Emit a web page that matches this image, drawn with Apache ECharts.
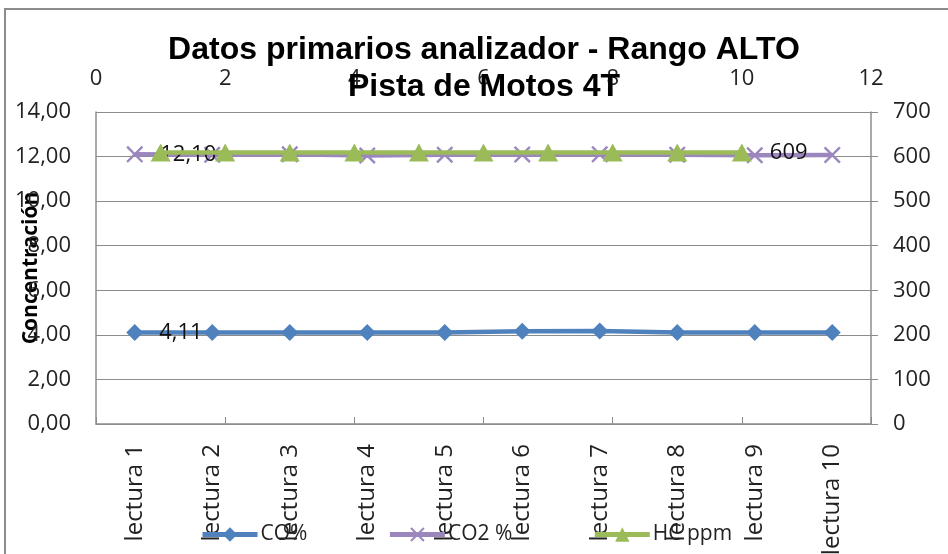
<!DOCTYPE html>
<html>
<head>
<meta charset="utf-8">
<script src="https://cdn.jsdelivr.net/npm/echarts@6/dist/echarts.min.js"></script>
<style>
  html, body { margin: 0; padding: 0; background: #fff; }
  #frame { position: absolute; left: 4px; top: 8px; width: 948px; height: 560px; border: 2px solid #8c8c8c; box-sizing: border-box; }
  #chart { position: absolute; left: 0; top: 0; width: 948px; height: 554px; }
</style>
</head>
<body>
<div id="frame"></div>
<div id="chart"></div>
<script>
// Readings taken by the analyser on the motorcycle track (high range)
const lecturas = ['lectura 1', 'lectura 2', 'lectura 3', 'lectura 4', 'lectura 5',
                  'lectura 6', 'lectura 7', 'lectura 8', 'lectura 9', 'lectura 10'];
const coPct  = [4.11, 4.11, 4.11, 4.11, 4.11, 4.16, 4.17, 4.11, 4.11, 4.11];
const co2Pct = [12.10, 12.08, 12.10, 12.05, 12.08, 12.09, 12.10, 12.08, 12.06, 12.07];
// HC is plotted against the secondary axes (reading number 1..10, ppm)
const hcIndex = [1, 2, 3, 4, 5, 6, 7, 8, 9, 10];
const hcPpm   = [609, 609, 609, 609, 609, 609, 609, 609, 609, 609];

const FONT = 'Open Sans';
const AXIS_GREY = '#8c8c8c';

const comma = v => v.toFixed(2).replace('.', ',');

const chart = echarts.init(document.getElementById('chart'), null, { renderer: 'canvas' });

chart.setOption({
  animation: false,
  backgroundColor: 'transparent',
  title: {
    text: 'Datos primarios analizador - Rango ALTO\nPista de Motos 4T',
    left: 479,
    top: 27,
    textAlign: 'center',
    textStyle: { fontFamily: 'Liberation Sans', fontWeight: 'bold', fontSize: 32, lineHeight: 37, color: '#000' }
  },
  legend: {
    left: 200,
    top: 524,
    padding: 0,
    itemWidth: 55,
    itemHeight: 18,
    itemGap: 80,
    lineStyle: { width: 5 },
    textStyle: { fontFamily: FONT, fontSize: 21, color: '#222', padding: [0, 0, 0, -2] },
    data: ['CO%', 'CO2 %', 'HC ppm']
  },
  grid: { left: 96, right: 77, top: 112, bottom: 130, containLabel: false, outerBoundsMode: 'none' },
  xAxis: [
    {
      type: 'category',
      data: lecturas,
      position: 'bottom',
      boundaryGap: true,
      axisLine: { lineStyle: { color: AXIS_GREY, width: 1.5 } },
      axisTick: { show: false },
      axisLabel: { rotate: 90, margin: 20, fontFamily: FONT, fontSize: 24, color: '#222' }
    },
    {
      type: 'value',
      position: 'top',
      min: 0, max: 12, interval: 2,
      axisLine: { show: false },
      axisTick: { show: true, inside: false, length: 7, lineStyle: { color: AXIS_GREY } },
      splitLine: { show: false },
      axisLabel: { margin: 22, fontFamily: FONT, fontSize: 22, color: '#222' }
    }
  ],
  yAxis: [
    {
      type: 'value',
      position: 'left',
      min: 0, max: 14, interval: 2,
      name: 'Concentración',
      nameLocation: 'middle',
      nameRotate: 90,
      nameGap: 54,
      nameMoveOverlap: false,
      nameTextStyle: { fontFamily: FONT, fontWeight: 'bold', fontSize: 21, color: '#000' },
      axisLine: { show: true, lineStyle: { color: AXIS_GREY, width: 1.5 } },
      axisTick: { show: false },
      splitLine: { show: true, lineStyle: { color: AXIS_GREY, width: 1.2 } },
      axisLabel: { margin: 25, fontFamily: FONT, fontSize: 22, color: '#222', formatter: v => comma(v) }
    },
    {
      type: 'value',
      position: 'right',
      min: 0, max: 700, interval: 100,
      axisLine: { show: true, lineStyle: { color: AXIS_GREY, width: 1.5 } },
      axisTick: { show: true, length: 7, lineStyle: { color: AXIS_GREY } },
      splitLine: { show: false },
      axisLabel: { margin: 22, fontFamily: FONT, fontSize: 22, color: '#222' }
    }
  ],
  series: [
    {
      name: 'CO%',
      type: 'line',
      xAxisIndex: 0, yAxisIndex: 0,
      data: coPct,
      color: '#4f81bd',
      lineStyle: { width: 4.5 },
      symbol: 'diamond',
      symbolSize: 17,
      z: 3,
      label: {
        show: true,
        position: 'right',
        distance: 16,
        fontFamily: FONT, fontSize: 22, color: '#111',
        formatter: p => (p.dataIndex === 0 ? comma(p.value) : '')
      }
    },
    {
      name: 'CO2 %',
      type: 'line',
      xAxisIndex: 0, yAxisIndex: 0,
      data: co2Pct,
      color: '#8064a2',
      lineStyle: { width: 4.5 },
      symbol: 'path://M0,1 L1,0 L5,4 L9,0 L10,1 L6,5 L10,9 L9,10 L5,6 L1,10 L0,9 L4,5 Z',
      symbolSize: 17,
      itemStyle: { color: '#9b87bd' },
      z: 4,
      label: {
        show: true,
        position: 'right',
        distance: 17,
        fontFamily: FONT, fontSize: 22, color: '#111',
        formatter: p => (p.dataIndex === 0 ? comma(p.value) : '')
      }
    },
    {
      name: 'HC ppm',
      type: 'line',
      xAxisIndex: 1, yAxisIndex: 1,
      data: hcIndex.map((x, i) => [x, hcPpm[i]]),
      color: '#9bbb59',
      lineStyle: { width: 4.5 },
      symbol: 'triangle',
      symbolSize: [20, 18],
      z: 5,
      label: {
        show: true,
        position: 'right',
        distance: 18,
        fontFamily: FONT, fontSize: 22, color: '#111',
        formatter: p => (p.dataIndex === hcIndex.length - 1 ? String(p.value[1]) : '')
      }
    }
  ]
});
</script>
</body>
</html>
